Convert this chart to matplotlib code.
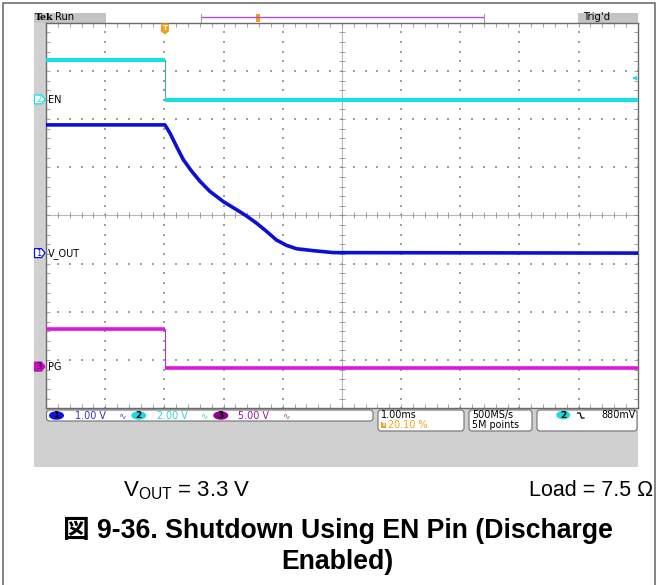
import matplotlib.pyplot as plt
from matplotlib.patches import Rectangle, FancyBboxPatch, Ellipse, Polygon
import numpy as np

plt.rcParams['mathtext.fontset'] = 'custom'
plt.rcParams['mathtext.rm'] = 'Liberation Sans'

# scope settings
time_per_div = 1.0          # ms/div
trigger_pos = 0.201         # trigger position in record
t_left = -10 * trigger_pos * time_per_div
t_right = t_left + 10 * time_per_div

volts_per_div = {1: 1.0, 2: 2.0, 3: 5.0}
ground_div = {1: 3.22, 2: 6.41, 3: 0.865}
colors = {1: '#0a10d8', 2: '#18e0e0', 3: '#e014e0'}
names = {1: 'V_OUT', 2: 'EN', 3: 'PG'}

# EN (ch2): step down at the trigger
en_t = [t_left, 0.0, 0.0, t_right]
en_v = [1.64, 1.64, -0.02, -0.02]

# V_OUT (ch1): discharge after EN goes low
vout_t = [t_left, 0.0, 0.085, 0.197, 0.31, 0.451, 0.592, 0.76, 0.985, 1.211,
          1.38, 1.549, 1.718, 1.887, 2.056, 2.225, 2.51, 2.85, t_right]
vout_v = [2.66, 2.66, 2.49, 2.21, 1.94, 1.70, 1.49, 1.28, 1.07, 0.90,
          0.77, 0.62, 0.45, 0.27, 0.16, 0.09, 0.05, 0.01, 0.0]

# PG (ch3): pulled low with EN
pg_t = [t_left, 0.0, 0.0, t_right]
pg_v = [3.88, 3.88, -0.1, -0.1]

trig_level = '880mV'


def to_div(ch, volts):
    return ground_div[ch] + np.asarray(volts) / volts_per_div[ch]


W, H = 657, 585
fig = plt.figure(figsize=(W / 100, H / 100), dpi=100)

# background layer in pixel coordinates
bg = fig.add_axes([0, 0, 1, 1], zorder=0)
bg.set_xlim(0, W)
bg.set_ylim(H, 0)
bg.axis('off')

gray = '#d0d0d0'
bg.add_patch(Rectangle((34, 13), 12, 454, color=gray, lw=0))
bg.add_patch(Rectangle((34, 407), 604, 60, color=gray, lw=0))
bg.add_patch(Rectangle((34, 13), 72, 9.5, color='#c4c4c4', lw=0))
bg.add_patch(Rectangle((578, 13), 60, 9.5, color='#c4c4c4', lw=0))
bg.text(34.5, 18, 'Tek', fontsize=6.8, fontweight='bold', va='center', ha='left', family='DejaVu Serif')
bg.text(55.5, 17.5, 'Run', fontsize=7.2, va='center', ha='left')
bg.text(583, 17.5, "Trig'd", fontsize=7.2, va='center', ha='left')
# record view bar
bg.plot([200.5, 484], [16.8, 16.8], color='#b050c8', lw=1)
bg.plot([200.5, 200.5], [13.5, 22], color='#a0a0a0', lw=0.8)
bg.plot([484, 484], [13.5, 22], color='#a0a0a0', lw=0.8)
bg.add_patch(Rectangle((256, 13.5), 3.5, 8.5, color='#f0a020', lw=0))

# outer frame
bg.plot([3, 3, 655, 655], [H, 2.5, 2.5, H], color='#707070', lw=1.2)

# captions
bg.text(123, 496, r'V$_{\mathrm{OUT}}$ = 3.3 V', fontsize=16, family='Liberation Sans',
        ha='left', va='baseline')
bg.text(653, 496, 'Load = 7.5 Ω', fontsize=15.5, family='Liberation Sans',
        ha='right', va='baseline')
title_fam = ['Liberation Sans', 'Noto Sans CJK JP']
bg.text(337.5, 538, '図 9-36. Shutdown Using EN Pin (Discharge', fontsize=19.2,
        fontweight='bold', family=title_fam, ha='center', va='baseline')
bg.text(337.5, 569, 'Enabled)', fontsize=19.2, fontweight='bold', family=title_fam,
        ha='center', va='baseline')

# status boxes
def status_box(x0, x1, y0, y1):
    bg.add_patch(FancyBboxPatch((x0, y0), x1 - x0, y1 - y0,
                                boxstyle='round,pad=0,rounding_size=3',
                                fc='white', ec='#707070', lw=0.8))

status_box(46.5, 373, 410, 421)
status_box(378, 464, 410, 431)
status_box(469, 532, 410, 431)
status_box(537, 637, 410, 431)

sfont = 'DejaVu Sans'
sfs = 6.9
for cx, ch, fc in [(56.5, '1', '#1010e8'), (138.8, '2', '#20d8e0'), (220.8, '3', '#900090')]:
    bg.add_patch(Ellipse((cx, 415.5), 15, 8.5, color=fc, lw=0))
    bg.text(cx, 415.8, ch, fontsize=6.5, ha='center', va='center', color='black', fontweight='bold')
bg.text(75, 415.8, '1.00 V', fontsize=sfs, family=sfont, color='#3030c8', va='center')
bg.text(157, 415.8, '2.00 V', fontsize=sfs, family=sfont, color='#30d0d8', va='center')
bg.text(238, 415.8, '5.00 V', fontsize=sfs, family=sfont, color='#a010a0', va='center')
for x, c in [(121.7, '#5050d0'), (203.3, '#40d0d8'), (286, '#b040b0')]:
    bg.text(x, 415.8, '∿', fontsize=6.5, color=c, ha='center', va='center')

bg.text(381, 414.8, '1.00ms', fontsize=sfs, family=sfont, va='center')
bg.add_patch(Rectangle((380.5, 421.5), 5, 6.5, color='#f0a020', lw=0))
bg.text(383, 424.9, 'T', fontsize=4.5, color='white', ha='center', va='center', fontweight='bold')
bg.text(388, 425.2, '20.10 %', fontsize=sfs, family=sfont, color='#f0a020', va='center')
bg.text(472, 414.8, '500MS/s', fontsize=sfs, family=sfont, va='center')
bg.text(472, 425.2, '5M points', fontsize=sfs, family=sfont, va='center')
bg.add_patch(Ellipse((563.3, 415), 14, 8.5, color='#20d8e0', lw=0))
bg.text(563.3, 415.3, '2', fontsize=6.5, ha='center', va='center', fontweight='bold')
bg.plot([577.5, 580, 581.5, 584], [413, 413, 418, 418], color='black', lw=0.9)
bg.text(636, 414.8, trig_level, fontsize=sfs, family=sfont, ha='right', va='center')

# scope graticule
x0, x1, y0, y1 = 46, 637.7, 22.7, 408.3
ax = fig.add_axes([x0 / W, 1 - y1 / H, (x1 - x0) / W, (y1 - y0) / H], zorder=1)
ax.set_xlim(t_left, t_right)
ax.set_ylim(0, 8)
ax.set_facecolor('white')
for s in ax.spines.values():
    s.set_color('#6a6a6a')
    s.set_linewidth(1)
fine_x = t_left + np.arange(0, 50.5) * 0.2
fine_y = np.arange(0, 40.5) * 0.2
ax.set_xticks(fine_x)
ax.set_yticks(fine_y)
ax.tick_params(direction='in', length=3, width=0.6, color='#909090',
               top=True, right=True, labelbottom=False, labelleft=False)

dot_kw = dict(s=0.9, marker='s', color='#a0a0a0', lw=0, zorder=1)
for i in range(1, 10):
    if i == 5:
        continue
    xv = t_left + i
    ax.scatter(np.full(fine_y.size, xv), fine_y, **dot_kw)
for j in range(1, 8):
    if j == 4:
        continue
    ax.scatter(fine_x, np.full(fine_x.size, j), **dot_kw)
xc = t_left + 5
ax.axvline(xc, color='#b8b8b8', lw=0.8, zorder=1)
ax.axhline(4, color='#b8b8b8', lw=0.8, zorder=1)
ax.plot(np.full(fine_y.size, xc), fine_y, ls='none', marker='_', ms=4, mew=0.6, color='#909090', zorder=1)
ax.plot(fine_x, np.full(fine_x.size, 4), ls='none', marker='|', ms=4, mew=0.6, color='#909090', zorder=1)

# traces
ax.plot(en_t, to_div(2, en_v), color='#40a8a8', lw=0.8, zorder=3)
ax.plot(en_t[:2], to_div(2, en_v[:2]), color=colors[2], lw=3.0, zorder=3, solid_capstyle='butt')
ax.plot(en_t[2:], to_div(2, en_v[2:]), color=colors[2], lw=3.0, zorder=3, solid_capstyle='butt')

ax.plot(vout_t, to_div(1, vout_v), color=colors[1], lw=2.6, zorder=3)

ax.plot(pg_t, to_div(3, pg_v), color='#a040a0', lw=0.8, zorder=3)
ax.plot(pg_t[:2], to_div(3, pg_v[:2]), color=colors[3], lw=2.6, zorder=3, solid_capstyle='butt')
ax.plot(pg_t[2:], to_div(3, pg_v[2:]), color=colors[3], lw=2.6, zorder=3, solid_capstyle='butt')

# foreground markers in pixel coordinates
fg = fig.add_axes([0, 0, 1, 1], zorder=2)
fg.set_xlim(0, W)
fg.set_ylim(H, 0)
fg.axis('off')
fg.patch.set_alpha(0)

def to_px(ch, volts):
    return y1 - to_div(ch, volts) * (y1 - y0) / 8

for ch, filled in [(2, False), (1, False), (3, True)]:
    yc = to_px(ch, 0)
    c = colors[ch] if ch != 3 else '#c010c0'
    fg.add_patch(Polygon([[34.5, yc - 4.5], [41.5, yc - 4.5], [45, yc], [41.5, yc + 4.5], [34.5, yc + 4.5]],
                         closed=True, fc=c if filled else 'white', ec=c, lw=0.9))
    fg.text(38.8, yc + 0.3, str(ch), fontsize=6, ha='center', va='center',
            color='#300030' if filled else c)
    fg.text(48, yc + 0.3, names[ch], fontsize=7, ha='left', va='center', color='black')

# trigger position marker
tx = x0 + (0 - t_left) / (t_right - t_left) * (x1 - x0)
fg.add_patch(Polygon([[tx - 4, 23.5], [tx + 4, 23.5], [tx + 4, 31.5], [tx, 34.5], [tx - 4, 31.5]],
                     closed=True, fc='#f0a020', ec='none'))
fg.text(tx, 28, 'T', fontsize=5, color='white', ha='center', va='center', fontweight='bold')

# trigger level arrow on the right edge
trig_y = to_px(2, 0.88)
fg.annotate('', xy=(629.5, trig_y), xytext=(637, trig_y),
            arrowprops=dict(arrowstyle='-|>', color=colors[2], lw=1, mutation_scale=5))

fig.savefig('out.png', dpi=100)
